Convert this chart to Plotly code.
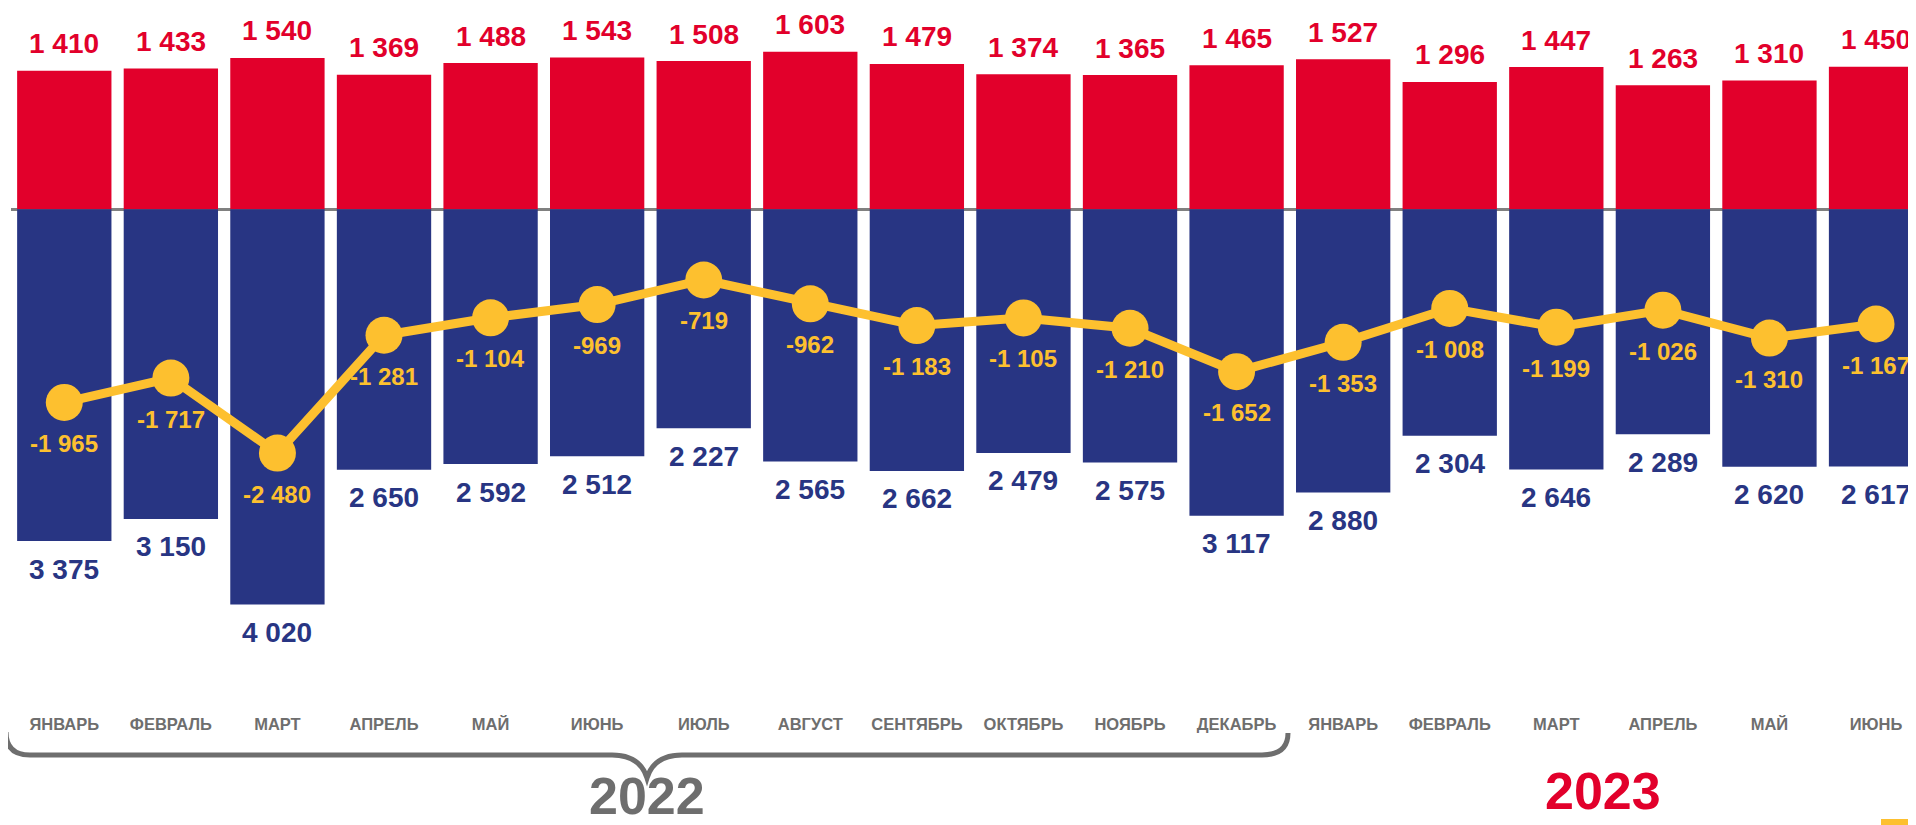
import plotly.graph_objects as go

months = ["ЯНВАРЬ", "ФЕВРАЛЬ", "МАРТ", "АПРЕЛЬ", "МАЙ", "ИЮНЬ", "ИЮЛЬ", "АВГУСТ",
          "СЕНТЯБРЬ", "ОКТЯБРЬ", "НОЯБРЬ", "ДЕКАБРЬ",
          "ЯНВАРЬ", "ФЕВРАЛЬ", "МАРТ", "АПРЕЛЬ", "МАЙ", "ИЮНЬ"]
upper_values = [1410, 1433, 1540, 1369, 1488, 1543, 1508, 1603, 1479, 1374, 1365, 1465,
                1527, 1296, 1447, 1263, 1310, 1450]
lower_values = [3375, 3150, 4020, 2650, 2592, 2512, 2227, 2565, 2662, 2479, 2575, 3117,
                2880, 2304, 2646, 2289, 2620, 2617]
balance_values = [-1965, -1717, -2480, -1281, -1104, -969, -719, -962, -1183, -1105, -1210, -1652,
                  -1353, -1008, -1199, -1026, -1310, -1167]
year_labels = ["2022", "2023"]

RED = "#E2002B"
BLUE = "#283583"
YELLOW = "#FDC02F"
GRAY = "#6E6E6E"
FONT = "Liberation Sans, Arial, sans-serif"

OFF = 8  # default page margin around the figure div
W, H = 1916 - OFF, 825 - OFF
ML, MR, MT = 3, 0, 0
PLOT_H = 704
MB = H - MT - PLOT_H
PLOT_W = W - ML - MR

def fmt(v):
    return f"{v:,}".replace(",", " ")

def px_x(p):
    return (p - OFF - ML) / PLOT_W

def px_y(p):
    return (MT + PLOT_H - (p - OFF)) / PLOT_H

xs = list(range(len(months)))

fig = go.Figure()
fig.add_trace(go.Bar(x=xs, y=upper_values, marker=dict(color=RED, line=dict(width=0)),
                     hoverinfo="skip"))
fig.add_trace(go.Bar(x=xs, y=[-v for v in lower_values], marker=dict(color=BLUE, line=dict(width=0)),
                     hoverinfo="skip"))
fig.add_trace(go.Scatter(x=xs, y=balance_values, mode="lines+markers",
                         line=dict(color=YELLOW, width=9),
                         marker=dict(color=YELLOW, size=37), hoverinfo="skip"))

ann = []
for x, v in zip(xs, upper_values):
    ann.append(dict(x=x, y=v, text=fmt(v), showarrow=False, yanchor="middle", yshift=27,
                    font=dict(family=FONT, size=28, color=RED, weight="bold")))
for x, v in zip(xs, lower_values):
    ann.append(dict(x=x, y=-v, text=fmt(v), showarrow=False, yanchor="middle", yshift=-28,
                    font=dict(family=FONT, size=28, color=BLUE, weight="bold")))
for x, v in zip(xs, balance_values):
    ann.append(dict(x=x, y=v, text=fmt(v), showarrow=False, yanchor="middle", yshift=-41,
                    font=dict(family=FONT, size=24, color=YELLOW, weight="bold")))

ann.append(dict(xref="paper", yref="paper", x=px_x(647), y=px_y(796), text=year_labels[0],
                showarrow=False, xanchor="center", yanchor="middle",
                font=dict(family=FONT, size=52, color=GRAY, weight="bold")))
ann.append(dict(xref="paper", yref="paper", x=px_x(1603), y=px_y(791), text=year_labels[1],
                showarrow=False, xanchor="center", yanchor="middle",
                font=dict(family=FONT, size=52, color=RED, weight="bold")))

pts = [(6, 732), (6, 755), (30, 755), (612, 755), (640, 755), (647, 778), (654, 755),
       (682, 755), (1262, 755), (1288, 755), (1288, 733)]
P = [f"{px_x(a):.5f},{px_y(b):.5f}" for a, b in pts]
brace = (f"M {P[0]} Q {P[1]} {P[2]} L {P[3]} Q {P[4]} {P[5]} Q {P[6]} {P[7]} "
         f"L {P[8]} Q {P[9]} {P[10]}")

shapes = [
    dict(type="path", xref="paper", yref="paper", path=brace,
         line=dict(color=GRAY, width=5)),
    dict(type="rect", xref="paper", yref="paper", x0=px_x(1881), x1=px_x(1916),
         y0=px_y(825), y1=px_y(819), fillcolor=YELLOW, line=dict(width=0)),
]

ZERO_PX = 209.3 - OFF
SCALE = 0.0983
ymax = ZERO_PX / SCALE
ymin = -(PLOT_H - ZERO_PX) / SCALE

fig.update_layout(
    width=W, height=H,
    margin=dict(l=ML, r=MR, t=MT, b=MB, pad=0),
    paper_bgcolor="white", plot_bgcolor="white",
    barmode="relative", bargap=0.115,
    showlegend=False,
    xaxis=dict(tickmode="array", tickvals=xs, ticktext=months, range=[-0.5, 17.375],
               showgrid=False, zeroline=False, showline=False, ticks="",
               tickfont=dict(family=FONT, size=16.5, color=GRAY, weight="bold"),
               fixedrange=True),
    yaxis=dict(range=[ymin, ymax], showgrid=False, showticklabels=False, ticks="",
               zeroline=True, zerolinecolor="#808080", zerolinewidth=3,
               layer="above traces",
               showline=False, fixedrange=True),
    annotations=ann,
    shapes=shapes,
)

fig.write_html("out.html")
